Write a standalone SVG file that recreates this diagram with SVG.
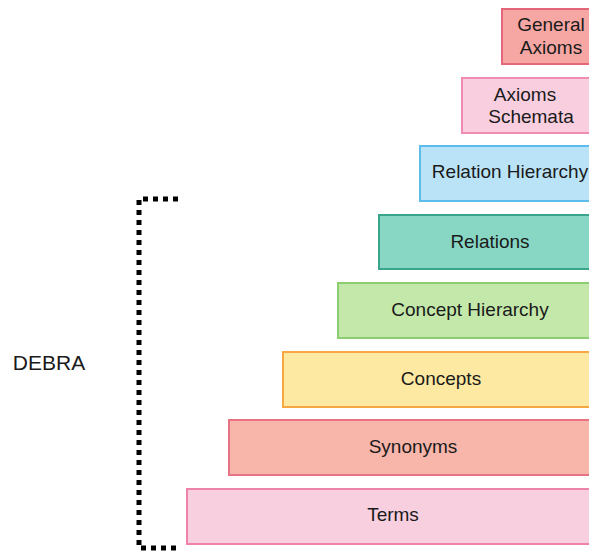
<svg xmlns="http://www.w3.org/2000/svg" width="589" height="551" viewBox="0 0 589 551">
  <style>
    .box { stroke-width: 2; }
    .lbl { font-family: "Liberation Sans", Arial, sans-serif; font-size: 19px; fill: #1a1a1a; text-anchor: middle; dominant-baseline: central; }
    .bracket { fill: none; stroke: #000; stroke-width: 5; stroke-dasharray: 5 5; }
  </style>
  <rect width="589" height="551" fill="#ffffff"/>

  <g id="general-axioms">
    <rect class="box" x="502" y="9" width="98" height="55" fill="#f7a7a3" stroke="#e4667a"/>
    <text class="lbl" x="551" y="24">General</text>
    <text class="lbl" x="551" y="47">Axioms</text>
  </g>
  <g id="axioms-schemata">
    <rect class="box" x="462" y="78" width="138" height="55" fill="#f9cfe0" stroke="#f08cb2"/>
    <text class="lbl" x="525" y="94">Axioms</text>
    <text class="lbl" x="531" y="116">Schemata</text>
  </g>
  <g id="relation-hierarchy">
    <rect class="box" x="420" y="146" width="180" height="55" fill="#bae3f8" stroke="#5cbdec"/>
    <text class="lbl" x="510" y="171">Relation Hierarchy</text>
  </g>
  <g id="relations">
    <rect class="box" x="379" y="215" width="221" height="54" fill="#88d7c5" stroke="#3aa58a"/>
    <text class="lbl" x="490" y="241">Relations</text>
  </g>
  <g id="concept-hierarchy">
    <rect class="box" x="338" y="283" width="262" height="55" fill="#c4e8aa" stroke="#8ccd72"/>
    <text class="lbl" x="470" y="309">Concept Hierarchy</text>
  </g>
  <g id="concepts">
    <rect class="box" x="283" y="352" width="317" height="55" fill="#fde9a2" stroke="#f7a843"/>
    <text class="lbl" x="441" y="378">Concepts</text>
  </g>
  <g id="synonyms">
    <rect class="box" x="229" y="420" width="371" height="55" fill="#f8b5aa" stroke="#e67282"/>
    <text class="lbl" x="413" y="446">Synonyms</text>
  </g>
  <g id="terms">
    <rect class="box" x="187" y="489" width="413" height="55" fill="#f8cfdf" stroke="#ee82a8"/>
    <text class="lbl" x="393" y="514">Terms</text>
  </g>

  <g id="connectors">
    <path class="bracket" d="M178 199 L139 199 L139 548 L178 548"/>
  </g>
  <g id="debra">
    <text class="lbl" x="49" y="362" style="font-size:21px">DEBRA</text>
  </g>
</svg>
